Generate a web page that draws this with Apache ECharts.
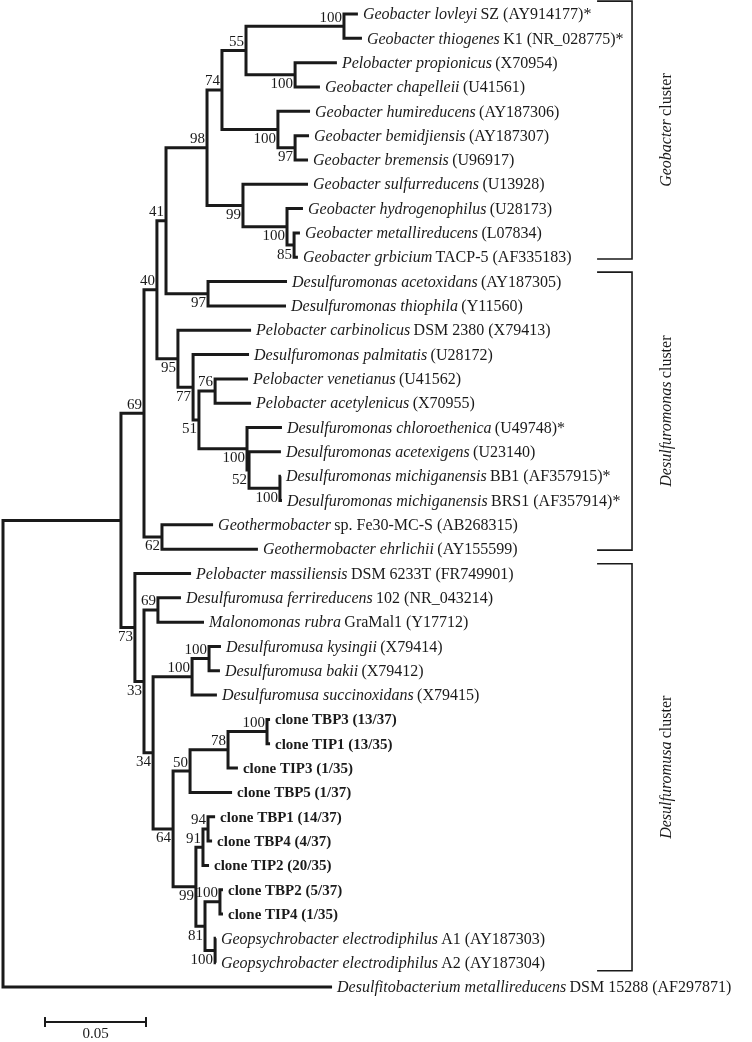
<!DOCTYPE html>
<html><head><meta charset="utf-8">
<script src="https://cdn.jsdelivr.net/npm/echarts@6/dist/echarts.min.js"></script>
<style>html,body{margin:0;padding:0;background:#fff}#c{width:752px;height:1042px}</style>
</head><body><div id="c"></div>
<script>
// ---- leaves (top to bottom): [italic part, plain part]; empty italic part = bold clone label
const leafNames = [
 ['Geobacter lovleyi', 'SZ (AY914177)*'],
 ['Geobacter thiogenes', 'K1 (NR_028775)*'],
 ['Pelobacter propionicus', '(X70954)'],
 ['Geobacter chapelleii', '(U41561)'],
 ['Geobacter humireducens', '(AY187306)'],
 ['Geobacter bemidjiensis', '(AY187307)'],
 ['Geobacter bremensis', '(U96917)'],
 ['Geobacter sulfurreducens', '(U13928)'],
 ['Geobacter hydrogenophilus', '(U28173)'],
 ['Geobacter metallireducens', '(L07834)'],
 ['Geobacter grbicium', 'TACP-5 (AF335183)'],
 ['Desulfuromonas acetoxidans', '(AY187305)'],
 ['Desulfuromonas thiophila', '(Y11560)'],
 ['Pelobacter carbinolicus', 'DSM 2380 (X79413)'],
 ['Desulfuromonas palmitatis', '(U28172)'],
 ['Pelobacter venetianus', '(U41562)'],
 ['Pelobacter acetylenicus', '(X70955)'],
 ['Desulfuromonas chloroethenica', '(U49748)*'],
 ['Desulfuromonas acetexigens', '(U23140)'],
 ['Desulfuromonas michiganensis', 'BB1 (AF357915)*'],
 ['Desulfuromonas michiganensis', 'BRS1 (AF357914)*'],
 ['Geothermobacter', 'sp. Fe30-MC-S (AB268315)'],
 ['Geothermobacter ehrlichii', '(AY155599)'],
 ['Pelobacter massiliensis', 'DSM 6233T (FR749901)'],
 ['Desulfuromusa ferrireducens', '102 (NR_043214)'],
 ['Malonomonas rubra', 'GraMal1 (Y17712)'],
 ['Desulfuromusa kysingii', '(X79414)'],
 ['Desulfuromusa bakii', '(X79412)'],
 ['Desulfuromusa succinoxidans', '(X79415)'],
 ['', 'clone TBP3 (13/37)'],
 ['', 'clone TIP1 (13/35)'],
 ['', 'clone TIP3 (1/35)'],
 ['', 'clone TBP5 (1/37)'],
 ['', 'clone TBP1 (14/37)'],
 ['', 'clone TBP4 (4/37)'],
 ['', 'clone TIP2 (20/35)'],
 ['', 'clone TBP2 (5/37)'],
 ['', 'clone TIP4 (1/35)'],
 ['Geopsychrobacter electrodiphilus', 'A1 (AY187303)'],
 ['Geopsychrobacter electrodiphilus', 'A2 (AY187304)'],
 ['Desulfitobacterium metallireducens', 'DSM 15288 (AF297871)']
];
// distance of each tip from the root (substitutions per site)
const leafTipDepths = [0.1757,0.1777,0.1653,0.1569,0.1520,0.1515,0.1510,0.1510,0.1485,0.1470,0.1460,
 0.1406,0.1401,0.1228,0.1218,0.1213,0.1228,0.1381,0.1376,0.1376,0.1381,0.1040,0.1262,
 0.0931,0.0881,0.0995,0.1079,0.1074,0.1059,0.1322,0.1322,0.1163,0.1134,0.1050,0.1035,0.1020,
 0.1089,0.1089,0.1054,0.1054,0.1629];

// ---- internal nodes
const cladeIds = ['root','A','n69','n40','n41','n98','n74','n55','n100a','n100c','n100b','n97b','n99a','n100d','n85',
 'n97','n95','n77','n51','n76','n100e','n52','n100f','n62','n73','n33','n69b','n34','n100h','n100i',
 'n64','n50','n78','n100g','n99b','n91','n94','n81','n100j','n100k'];
const cladeChildren = [
 ['A',40],['n69','n73'],['n40','n62'],['n41','n95'],['n98','n97'],['n74','n99a'],['n55','n100b'],
 ['n100a','n100c'],[0,1],[2,3],[4,'n97b'],[5,6],[7,'n100d'],[8,'n85'],[9,10],
 [11,12],[13,'n77'],[14,'n51'],['n76','n100e'],[15,16],[17,'n52'],[18,'n100f'],[19,20],[21,22],
 [23,'n33'],['n69b','n34'],[24,25],['n100h','n64'],['n100i',28],[26,27],
 ['n50','n99b'],['n78',32],['n100g',31],[29,30],['n91','n81'],['n94',35],[33,34],['n100j','n100k'],[36,37],[38,39]
];
const cladeDepths = [0,0.0584,0.0698,0.0762,0.0807,0.1010,0.1084,0.1203,0.1688,0.1446,0.1361,0.1446,0.1188,0.1406,0.1441,
 0.1015,0.0866,0.0941,0.0970,0.1050,0.1208,0.1218,0.1371,0.0787,0.0653,0.0698,0.0767,0.0743,0.0936,0.1020,
 0.0842,0.0926,0.1114,0.1307,0.0955,0.0990,0.1015,0.1000,0.1074,0.1050];
const cladeSupport = [null,null,69,40,41,98,74,55,100,100,100,97,99,100,85,
 97,95,77,51,76,100,52,100,62,73,33,69,34,100,100,
 64,50,78,100,99,91,94,81,100,100];
// a = label above the incoming branch, b = below
const supportSide = ['','','a','a','a','a','a','a','a','b','b','b','b','b','b',
 'b','b','b','b','a','b','b','b','b','b','b','a','b','a','a',
 'b','a','a','a','b','a','a','b','a','b'];

// ---- clusters (leaf index ranges)
const clusterGenus = ['Geobacter','Desulfuromonas','Desulfuromusa'];
const clusterTop = [-0.53, 10.61, 22.6];
const clusterBottom = [10.07, 22.04, 39.33];
const bracketDepths = [0.2941, 0.3114];
const clusterLabelDepth = 0.3287;

// ---- scale bar
const scaleBarLength = 0.05;
const scaleBarStart = 0.0208;
const scaleBarRow = 41.44;
const scaleBarLabel = '0.05';

// ---- layout (y = mean of outer children, x = distance from root)
const yOf = {}, dOf = {};
leafNames.forEach((_, i) => { yOf[i] = i; dOf[i] = leafTipDepths[i]; });
function place(id) {
  if (typeof id === 'number') return;
  const k = cladeIds.indexOf(id);
  const ch = cladeChildren[k];
  ch.forEach(place);
  yOf[id] = (yOf[ch[0]] + yOf[ch[ch.length - 1]]) / 2;
  dOf[id] = cladeDepths[k];
}
place('root');

const branchData = cladeIds.map((id, k) => {
  const ch = cladeChildren[k];
  return [dOf[id], yOf[id], dOf[ch[0]], yOf[ch[0]], dOf[ch[1]], yOf[ch[1]]];
});
const leafData = leafNames.map((_, i) => [leafTipDepths[i], i]);
const supportData = [], supportText = [], supportPos = [];
cladeIds.forEach((id, k) => {
  if (cladeSupport[k] == null) return;
  supportData.push([dOf[id], yOf[id]]);
  supportText.push(String(cladeSupport[k]));
  supportPos.push(supportSide[k]);
});
const clusterData = clusterGenus.map((g, i) => [bracketDepths[1], (clusterTop[i] + clusterBottom[i]) / 2]);

const FONT = '"Liberation Serif","Times New Roman",serif';
const INK = '#1a1a1a';

const chart = echarts.init(document.getElementById('c'), null, {renderer: 'canvas'});
chart.setOption({
  animation: false,
  backgroundColor: '#ffffff',
  grid: {left: 3, right: 1.6, top: 14, height: 42 * 24.325},
  xAxis: {type: 'value', min: 0, max: 0.37, show: false},
  yAxis: {type: 'value', min: 0, max: 42, inverse: true, show: false},
  series: [
    { // branches
      type: 'custom', silent: true, data: branchData,
      renderItem(params, api) {
        const n = api.coord([api.value(0), api.value(1)]);
        const a = api.coord([api.value(2), api.value(3)]);
        const b = api.coord([api.value(4), api.value(5)]);
        return {type: 'polyline', shape: {points: [[a[0], a[1]], [n[0], a[1]], [n[0], b[1]], [b[0], b[1]]]},
          style: {stroke: INK, lineWidth: 3, fill: null, lineJoin: 'miter', lineCap: 'butt'}};
      }
    },
    { // leaf labels
      type: 'custom', silent: true, data: leafData,
      renderItem(params, api) {
        const p = api.coord([api.value(0), api.value(1)]);
        const nm = leafNames[params.dataIndex];
        const txt = nm[0] ? '{i|' + nm[0] + '} {n|' + nm[1] + '}' : '{b|' + nm[1] + '}';
        return {type: 'text', x: p[0] + 5, y: p[1] + 1,
          style: {text: txt, align: 'left', verticalAlign: 'middle', fill: INK,
            rich: {
              i: {fontFamily: FONT, fontSize: 16, fontStyle: 'italic', fill: INK},
              n: {fontFamily: FONT, fontSize: 16, fill: INK},
              b: {fontFamily: FONT, fontSize: 15, fontWeight: 'bold', fill: INK}
            }}};
      }
    },
    { // bootstrap support values
      type: 'custom', silent: true, data: supportData,
      renderItem(params, api) {
        const p = api.coord([api.value(0), api.value(1)]);
        const above = supportPos[params.dataIndex] === 'a';
        return {type: 'text', x: p[0] - 2, y: p[1] + (above ? -1 : 2),
          style: {text: supportText[params.dataIndex], align: 'right', verticalAlign: above ? 'bottom' : 'top',
            fill: INK, fontFamily: FONT, fontSize: 15}};
      }
    },
    { // cluster brackets
      type: 'custom', silent: true, data: clusterData,
      renderItem(params, api) {
        const i = params.dataIndex;
        const t = api.coord([bracketDepths[0], clusterTop[i]]);
        const b = api.coord([bracketDepths[1], clusterBottom[i]]);
        const l = api.coord([clusterLabelDepth, (clusterTop[i] + clusterBottom[i]) / 2]);
        return {type: 'group', children: [
          {type: 'polyline', shape: {points: [[t[0], t[1]], [b[0], t[1]], [b[0], b[1]], [t[0], b[1]]]},
            style: {stroke: INK, lineWidth: 1.6, fill: null}},
          {type: 'text', x: l[0], y: l[1], rotation: Math.PI / 2,
            style: {text: '{i|' + clusterGenus[i] + '} {n|cluster}', align: 'center', verticalAlign: 'middle',
              rich: {i: {fontFamily: FONT, fontSize: 16, fontStyle: 'italic', fill: INK},
                     n: {fontFamily: FONT, fontSize: 16, fill: INK}}}}
        ]};
      }
    },
    { // scale bar
      type: 'custom', silent: true, data: [[scaleBarStart, scaleBarRow, scaleBarStart + scaleBarLength]],
      renderItem(params, api) {
        const a = api.coord([api.value(0), api.value(1)]);
        const b = api.coord([api.value(2), api.value(1)]);
        return {type: 'group', children: [
          {type: 'line', shape: {x1: a[0], y1: a[1], x2: b[0], y2: b[1]}, style: {stroke: INK, lineWidth: 2}},
          {type: 'line', shape: {x1: a[0], y1: a[1] - 5, x2: a[0], y2: a[1] + 5}, style: {stroke: INK, lineWidth: 2}},
          {type: 'line', shape: {x1: b[0], y1: b[1] - 5, x2: b[0], y2: b[1] + 5}, style: {stroke: INK, lineWidth: 2}},
          {type: 'text', x: (a[0] + b[0]) / 2, y: a[1] + 5,
            style: {text: scaleBarLabel, align: 'center', verticalAlign: 'top', fill: INK, fontFamily: FONT, fontSize: 15}}
        ]};
      }
    }
  ]
});
</script></body></html>
